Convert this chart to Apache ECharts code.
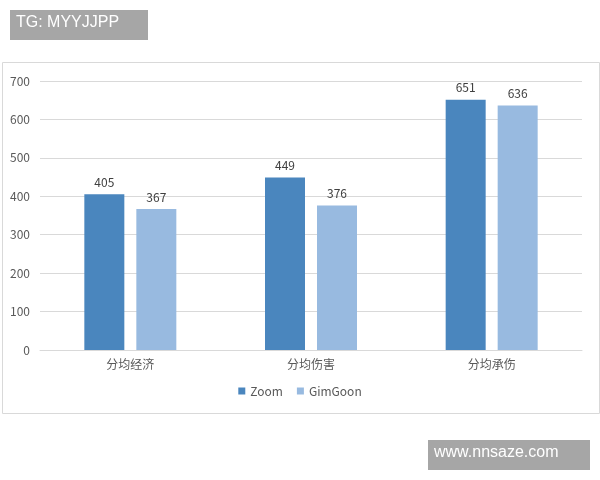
<!DOCTYPE html>
<html><head><meta charset="utf-8">
<script src="https://cdn.jsdelivr.net/npm/echarts@6/dist/echarts.min.js"></script>
<style>html,body{margin:0;padding:0;background:#fff}#c{width:600px;height:480px}</style>
</head><body><div id="c"></div>
<script>
const categories = ['分均经济','分均伤害','分均承伤'];
const zoom = [405,449,651];
const gimgoon = [367,376,636];
const yTicks = {min:0,max:700,interval:100};
const chart = echarts.init(document.getElementById('c'));
const font = '"Noto Sans CJK SC", sans-serif';
chart.setOption({
  animation:false,
  textStyle:{fontFamily:font},
  graphic:[
    {type:'rect',shape:{x:2.5,y:62.5,width:597,height:351},style:{fill:'none',stroke:'#d9d9d9',lineWidth:1}},
    {type:'rect',shape:{x:10,y:10,width:138,height:30},style:{fill:'#a6a6a6'}},
    {type:'text',left:16,top:15,style:{text:'TG: MYYJJPP',fill:'#fff',font:'16px "Liberation Sans", sans-serif'}},
    {type:'rect',shape:{x:428,y:440,width:162,height:30},style:{fill:'#a6a6a6'}},
    {type:'text',left:434,top:445,style:{text:'www.nnsaze.com',fill:'#fff',font:'16px "Liberation Sans", sans-serif'}}
  ],
  grid:{left:40,right:18,top:81,bottom:130},
  legend:{bottom:78,left:'center',itemWidth:7,itemHeight:7,icon:'rect',itemGap:14,
    textStyle:{color:'#595959',fontSize:12}},
  xAxis:{type:'category',data:categories,axisTick:{show:false},
    axisLine:{lineStyle:{color:'#d9d9d9'}},axisLabel:{color:'#595959',fontSize:12,margin:8}},
  yAxis:{type:'value',min:yTicks.min,max:yTicks.max,interval:yTicks.interval,
    axisLabel:{color:'#595959',fontSize:12,margin:10},
    splitLine:{lineStyle:{color:'#d9d9d9'}}},
  series:[
    {name:'Zoom',type:'bar',data:zoom,barWidth:40,barGap:'30%',itemStyle:{color:'#4a86be'},
      label:{show:true,position:'top',color:'#404040',fontSize:12,distance:6}},
    {name:'GimGoon',type:'bar',data:gimgoon,barWidth:40,itemStyle:{color:'#98bae0'},
      label:{show:true,position:'top',color:'#404040',fontSize:12,distance:6}}
  ]
});
</script></body></html>
